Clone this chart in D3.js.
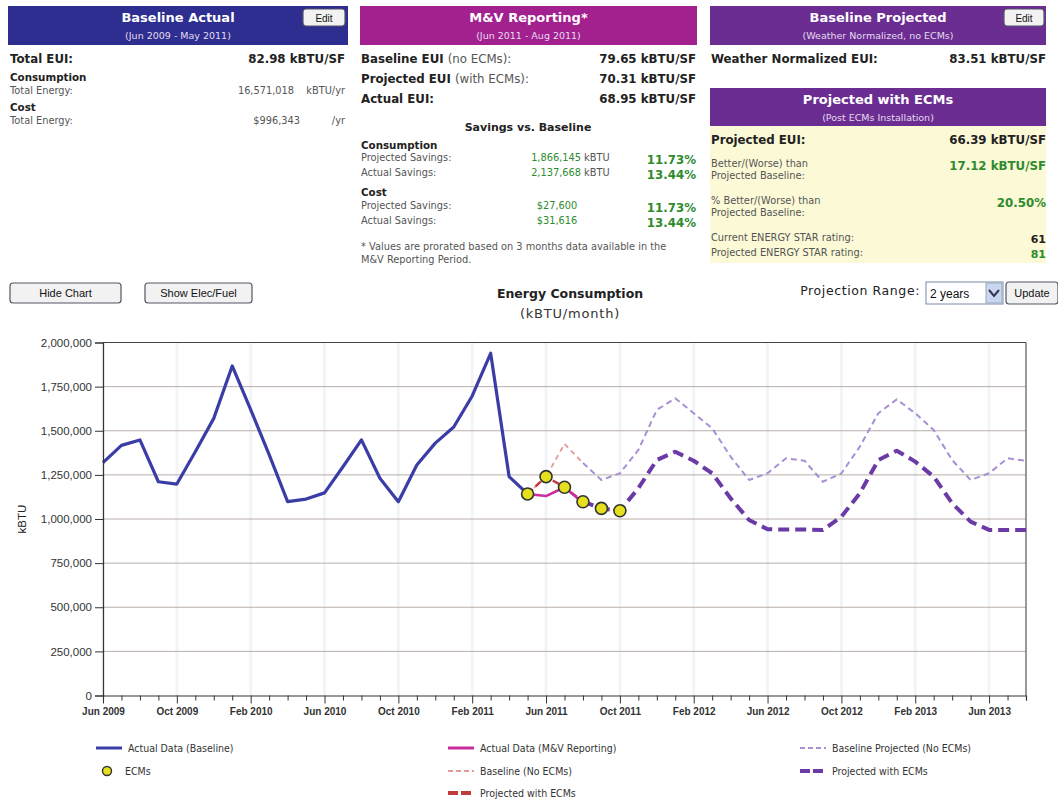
<!DOCTYPE html>
<html>
<head>
<meta charset="utf-8">
<script src="https://cdn.jsdelivr.net/npm/d3@7"></script>
<style>
  body { margin: 0; background: #fff; }
  svg { display: block; font-family: "DejaVu Sans", Verdana, sans-serif; }
</style>
</head>
<body>
<svg id="chart" width="1058" height="801"></svg>
<script>
// month index 0 = Jun 2009, 50 = Aug 2013
const tickLabels = ['Jun 2009', 'Oct 2009', 'Feb 2010', 'Jun 2010', 'Oct 2010', 'Feb 2011', 'Jun 2011',
  'Oct 2011', 'Feb 2012', 'Jun 2012', 'Oct 2012', 'Feb 2013', 'Jun 2013'];
const yTicks = [0, 250000, 500000, 750000, 1000000, 1250000, 1500000, 1750000, 2000000];

// Actual Data (Baseline), Jun 2009 - May 2011
const actualBaseline = [1319000, 1417000, 1448000, 1211000, 1198000, 1381000, 1570000, 1867000,
  1620000, 1365000, 1098000, 1113000, 1148000, 1296000, 1448000, 1231000, 1098000, 1306000,
  1430000, 1521000, 1697000, 1939000, 1240000, 1142000];
const actualBaselineStart = 0;

// M&V reporting period, May 2011 - Aug 2011
const mvActual = [1142000, 1130000, 1180000, 1092000];
const baselineNoEcm = [1142000, 1240000, 1425000, 1318000];
const projectedEcmReport = [1142000, 1240000, 1180000, 1098000];
const reportStart = 23;

// ECM markers, May 2011 - Oct 2011
const ecmPoints = [1142000, 1240000, 1180000, 1098000, 1060000, 1047000];
const ecmStart = 23;

// projections, Aug 2011 - Aug 2013
const baselineProjected = [1318000, 1221000, 1259000, 1391000, 1618000, 1684000, 1599000, 1514000,
  1353000, 1221000, 1259000, 1344000, 1330000, 1211000, 1259000, 1410000, 1599000, 1678000,
  1599000, 1504000, 1334000, 1221000, 1259000, 1344000, 1330000];
const projectedEcm = [1098000, 1060000, 1047000, 1174000, 1334000, 1381000, 1330000, 1259000,
  1117000, 994000, 942000, 940000, 940000, 938000, 1013000, 1146000, 1334000, 1387000,
  1325000, 1240000, 1089000, 985000, 938000, 938000, 938000];
const projStart = 26;

const svg = d3.select('#chart');

// ---------- summary panels ----------
const navy = '#2d2e8f', magenta = '#a3218f', purple = '#6b2d92';
const green = '#2e8b2e', dark = '#222', grey = '#555';

function header(x, w, y, h, color, title, sub) {
  svg.append('rect').attr('x', x).attr('y', y).attr('width', w).attr('height', h).attr('fill', color);
  svg.append('text').attr('x', x + w / 2).attr('y', y + 16).attr('text-anchor', 'middle')
    .attr('fill', '#fff').attr('font-size', 13).attr('font-weight', 'bold').text(title);
  svg.append('text').attr('x', x + w / 2).attr('y', y + 33).attr('text-anchor', 'middle')
    .attr('fill', '#e6dcef').attr('font-size', 9.5).text(sub);
}
function button(x, y, w, h, label, fs) {
  svg.append('rect').attr('x', x).attr('y', y).attr('width', w).attr('height', h).attr('rx', 3)
    .attr('fill', '#f2f2f2').attr('stroke', '#556').attr('stroke-width', 1.2);
  svg.append('text').attr('x', x + w / 2).attr('y', y + h / 2 + 4).attr('text-anchor', 'middle')
    .attr('font-family', '"Liberation Sans", Arial, sans-serif')
    .attr('font-size', fs || 11).attr('fill', '#111').text(label);
}
function txt(x, y, s, o) {
  o = o || {};
  const t = svg.append('text').attr('x', x).attr('y', y).attr('font-size', o.fs || 9.8)
    .attr('fill', o.fill || grey).attr('text-anchor', o.anchor || 'start').text(s);
  if (o.bold) t.attr('font-weight', 'bold');
  return t;
}
const big = { fs: 11.8, bold: true, fill: dark };
const bigR = { fs: 11.8, bold: true, fill: dark, anchor: 'end' };
const sect = { fs: 10.3, bold: true, fill: dark };

// Baseline Actual
header(8, 340, 6, 39, navy, 'Baseline Actual', '(Jun 2009 - May 2011)');
button(303, 9, 42, 17, 'Edit', 10);
txt(10, 63, 'Total EUI:', big);
txt(345, 63, '82.98 kBTU/SF', bigR);
txt(10, 81, 'Consumption', sect);
txt(10, 94, 'Total Energy:');
txt(294, 94, '16,571,018', { anchor: 'end' });
txt(345, 94, 'kBTU/yr', { anchor: 'end' });
txt(10, 111, 'Cost', sect);
txt(10, 124, 'Total Energy:');
txt(300, 124, '$996,343', { anchor: 'end' });
txt(345, 124, '/yr', { anchor: 'end' });

// M&V Reporting
header(360, 337, 6, 39, magenta, 'M&V Reporting*', '(Jun 2011 - Aug 2011)');
const r1 = txt(361, 63, '', { fs: 11.8, fill: dark });
r1.append('tspan').attr('font-weight', 'bold').text('Baseline EUI ');
r1.append('tspan').attr('fill', '#555').text('(no ECMs):');
const r2 = txt(361, 83, '', { fs: 11.8, fill: dark });
r2.append('tspan').attr('font-weight', 'bold').text('Projected EUI ');
r2.append('tspan').attr('fill', '#555').text('(with ECMs):');
txt(361, 103, 'Actual EUI:', big);
txt(696, 63, '79.65 kBTU/SF', bigR);
txt(696, 83, '70.31 kBTU/SF', bigR);
txt(696, 103, '68.95 kBTU/SF', bigR);
txt(528, 131, 'Savings vs. Baseline', { fs: 11, bold: true, fill: dark, anchor: 'middle' });
txt(361, 149, 'Consumption', sect);
txt(361, 161, 'Projected Savings:');
txt(361, 176, 'Actual Savings:');
txt(581, 161, '1,866,145', { fill: green, anchor: 'end' });
txt(584, 161, 'kBTU');
txt(581, 176, '2,137,668', { fill: green, anchor: 'end' });
txt(584, 176, 'kBTU');
txt(696, 164, '11.73%', { fs: 11.8, bold: true, fill: green, anchor: 'end' });
txt(696, 179, '13.44%', { fs: 11.8, bold: true, fill: green, anchor: 'end' });
txt(361, 196, 'Cost', sect);
txt(361, 209, 'Projected Savings:');
txt(361, 224, 'Actual Savings:');
txt(557, 209, '$27,600', { fill: green, anchor: 'middle' });
txt(557, 224, '$31,616', { fill: green, anchor: 'middle' });
txt(696, 212, '11.73%', { fs: 11.8, bold: true, fill: green, anchor: 'end' });
txt(696, 227, '13.44%', { fs: 11.8, bold: true, fill: green, anchor: 'end' });
txt(361, 250, '* Values are prorated based on 3 months data available in the');
txt(361, 263, 'M&V Reporting Period.');

// Baseline Projected / Projected with ECMs
header(710, 336, 6, 39, purple, 'Baseline Projected', '(Weather Normalized, no ECMs)');
button(1004, 9, 40, 17, 'Edit', 10);
txt(711, 63, 'Weather Normalized EUI:', big);
txt(1046, 63, '83.51 kBTU/SF', bigR);
svg.append('rect').attr('x', 710).attr('y', 126).attr('width', 336).attr('height', 137).attr('fill', '#fbf9d6');
header(710, 336, 88, 38, purple, 'Projected with ECMs', '(Post ECMs Installation)');
txt(711, 144, 'Projected EUI:', big);
txt(1046, 144, '66.39 kBTU/SF', bigR);
txt(711, 167, 'Better/(Worse) than');
txt(711, 179, 'Projected Baseline:');
txt(1046, 170, '17.12 kBTU/SF', { fs: 11.8, bold: true, fill: green, anchor: 'end' });
txt(711, 204, '% Better/(Worse) than');
txt(711, 216, 'Projected Baseline:');
txt(1046, 207, '20.50%', { fs: 11.8, bold: true, fill: green, anchor: 'end' });
txt(711, 241, 'Current ENERGY STAR rating:');
txt(711, 256, 'Projected ENERGY STAR rating:');
txt(1046, 243, '61', { fs: 11, bold: true, fill: dark, anchor: 'end' });
txt(1046, 258, '81', { fs: 11, bold: true, fill: green, anchor: 'end' });

// ---------- chart controls ----------
button(10, 283, 111, 20, 'Hide Chart', 11);
button(145, 283, 107, 20, 'Show Elec/Fuel', 11);
txt(570, 298, 'Energy Consumption', { fs: 12.5, bold: true, fill: dark, anchor: 'middle' });
txt(570, 318, '(kBTU/month)', { fs: 13, fill: '#333', anchor: 'middle' }).attr('letter-spacing', 0.8);
txt(920, 295, 'Projection Range:', { fs: 12.5, fill: '#222', anchor: 'end' }).attr('letter-spacing', 0.6);
svg.append('rect').attr('x', 926).attr('y', 282).attr('width', 77).attr('height', 22)
  .attr('fill', '#fff').attr('stroke', '#7a8aa8');
svg.append('text').attr('x', 930).attr('y', 298).attr('font-family', '"Liberation Sans", Arial, sans-serif')
  .attr('font-size', 12).attr('fill', '#111').text('2 years');
svg.append('rect').attr('x', 986).attr('y', 283).attr('width', 16).attr('height', 20)
  .attr('fill', '#c9d6f0').attr('stroke', '#9ab');
svg.append('path').attr('d', 'M989,290 L994,296 L999,290').attr('fill', 'none')
  .attr('stroke', '#335').attr('stroke-width', 2);
button(1006, 282, 52, 22, 'Update', 11);

// ---------- chart ----------
const plotL = 103, plotR = 1026, plotT = 342.5, plotB = 695.5;
const x = d3.scaleLinear().domain([0, 50]).range([plotL, plotR]);
const y = d3.scaleLinear().domain([0, 2000000]).range([plotB, plotT]);

const plot = svg.append('g');
// faint vertical bands
plot.selectAll('line.vg').data(d3.range(0, 51, 4)).join('line').attr('class', 'vg')
  .attr('x1', d => x(d)).attr('x2', d => x(d)).attr('y1', plotT).attr('y2', plotB)
  .attr('stroke', '#f3f4f8').attr('stroke-width', 3);
// horizontal grid
plot.selectAll('line.hg').data(yTicks.slice(1)).join('line').attr('class', 'hg')
  .attr('x1', plotL).attr('x2', plotR).attr('y1', d => y(d)).attr('y2', d => y(d))
  .attr('stroke', '#b8aea8').attr('stroke-width', 1);
plot.append('line').attr('x1', plotL).attr('x2', plotR).attr('y1', plotT).attr('y2', plotT)
  .attr('stroke', '#444').attr('stroke-width', 1.2);
plot.append('line').attr('x1', plotR).attr('x2', plotR).attr('y1', plotT).attr('y2', plotB)
  .attr('stroke', '#555').attr('stroke-width', 1.2);

const axisFont = '"Liberation Sans", Arial, sans-serif';
const yAxis = svg.append('g').attr('transform', `translate(${plotL},0)`)
  .call(d3.axisLeft(y).tickValues(yTicks).tickFormat(d3.format(',')).tickSize(8).tickPadding(3));
yAxis.select('.domain').attr('stroke', '#333').attr('stroke-width', 1.2);
yAxis.selectAll('.tick line').attr('stroke', '#333');
yAxis.selectAll('text').attr('font-family', axisFont).attr('font-size', 11.5).attr('fill', '#333');

const xAxis = svg.append('g').attr('transform', `translate(0,${plotB})`)
  .call(d3.axisBottom(x).tickValues(d3.range(0, 51)).tickSize(5)
    .tickFormat(d => d % 4 === 0 ? tickLabels[d / 4] : ''));
xAxis.select('.domain').attr('stroke', '#333').attr('stroke-width', 1.2);
xAxis.selectAll('.tick line').attr('stroke', '#333').attr('y2', d => d % 4 === 0 ? 8 : 5);
xAxis.selectAll('text').attr('font-family', axisFont).attr('font-size', 10)
  .attr('font-weight', 'bold').attr('fill', '#333').attr('dy', '1.1em');

svg.append('text').attr('transform', `translate(26,${(plotT + plotB) / 2}) rotate(-90)`)
  .attr('text-anchor', 'middle').attr('font-family', '"Liberation Sans", Arial, sans-serif')
  .attr('font-size', 11.5).attr('fill', '#222').text('kBTU');

const line = start => d3.line().x((d, i) => x(start + i)).y(d => y(d));

function series(data, start, color, width, dash) {
  plot.append('path').datum(data).attr('d', line(start)).attr('fill', 'none')
    .attr('stroke', color).attr('stroke-width', width).attr('stroke-linejoin', 'round')
    .attr('stroke-dasharray', dash || null);
}
series(baselineProjected, projStart, '#a98fd4', 2, '6,4');
series(baselineNoEcm, reportStart, '#e39a9a', 1.8, '5,4');
series(actualBaseline, actualBaselineStart, '#3b3da6', 3.2);
series(projectedEcm, projStart, '#6b3aa6', 4, '11,6');
series(projectedEcmReport, reportStart, '#c23a3a', 2.5, '7,4');
series(mvActual, reportStart, '#c92c9e', 2.6);

plot.selectAll('circle.ecm').data(ecmPoints).join('circle').attr('class', 'ecm')
  .attr('cx', (d, i) => x(ecmStart + i)).attr('cy', d => y(d)).attr('r', 6)
  .attr('fill', '#e6df1e').attr('stroke', '#333').attr('stroke-width', 1.6);

// ---------- legend ----------
const legendItems = [
  { label: 'Actual Data (Baseline)', x: 96, y: 748, color: '#3b3da6', w: 3, dash: null },
  { label: 'ECMs', x: 96, y: 771, marker: true },
  { label: 'Actual Data (M&V Reporting)', x: 448, y: 748, color: '#c92c9e', w: 3, dash: null },
  { label: 'Baseline (No ECMs)', x: 448, y: 771, color: '#e39a9a', w: 2, dash: '5,3' },
  { label: 'Projected with ECMs', x: 448, y: 793, color: '#c23a3a', w: 4, dash: '10,3' },
  { label: 'Baseline Projected (No ECMs)', x: 800, y: 748, color: '#a98fd4', w: 2, dash: '5,3' },
  { label: 'Projected with ECMs', x: 800, y: 771, color: '#6b3aa6', w: 4, dash: '10,3' }
];
const lg = svg.append('g').selectAll('g').data(legendItems).join('g')
  .attr('transform', d => `translate(${d.x},${d.y})`);
lg.filter(d => !d.marker).append('line').attr('x1', 0).attr('x2', 26).attr('y1', 0).attr('y2', 0)
  .attr('stroke', d => d.color).attr('stroke-width', d => d.w).attr('stroke-dasharray', d => d.dash);
lg.filter(d => d.marker).append('circle').attr('cx', 11).attr('cy', 0).attr('r', 4.5)
  .attr('fill', '#e6df1e').attr('stroke', '#333').attr('stroke-width', 1.4);
lg.append('text').attr('x', d => d.marker ? 29 : 32).attr('y', 4)
  .attr('font-family', '"DejaVu Sans Condensed", "DejaVu Sans", sans-serif')
  .attr('font-size', 10.5).attr('fill', '#333').text(d => d.label);
</script>
</body>
</html>
